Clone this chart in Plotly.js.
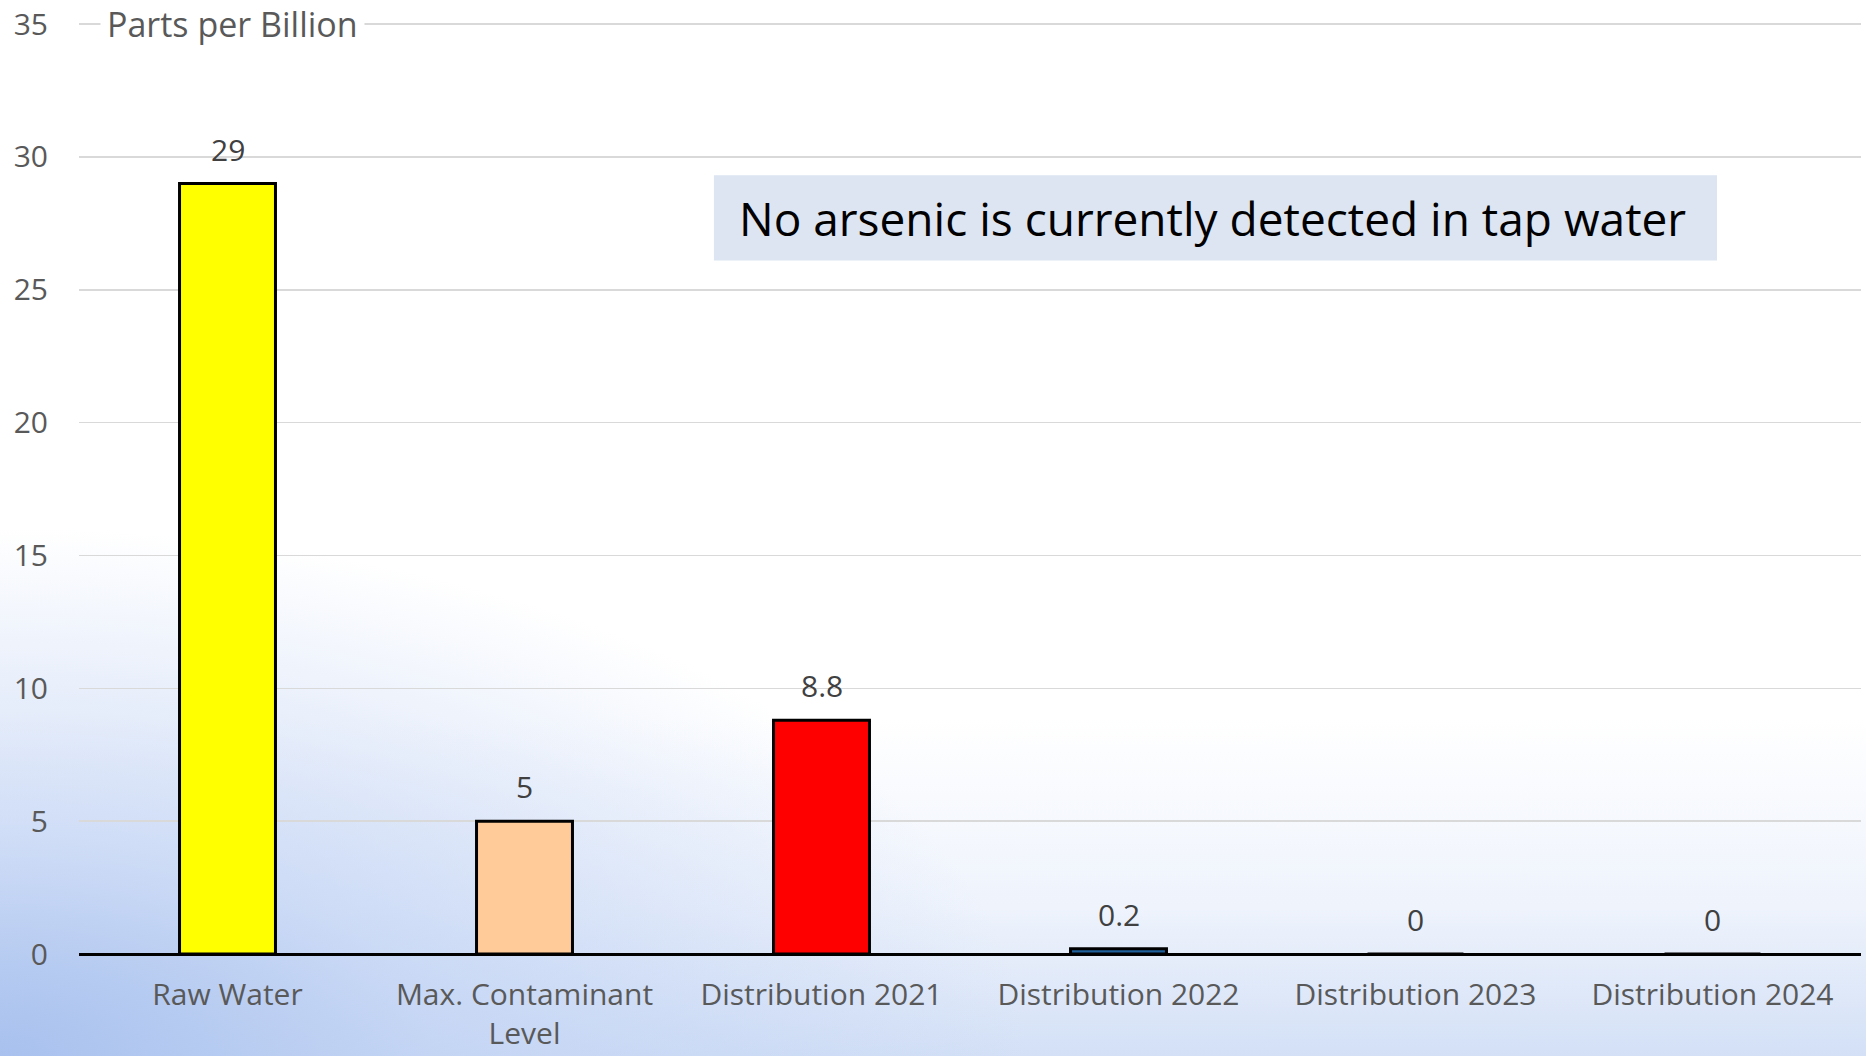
<!DOCTYPE html>
<html>
<head>
<meta charset="utf-8">
<script src="https://cdn.plot.ly/plotly-3.0.1.min.js"></script>
<style>
  html, body { margin: 0; padding: 0; }
  body {
    width: 1866px; height: 1056px; overflow: hidden;
    background:
      radial-gradient(ellipse 55% 50% at 0% 100%, rgba(168,193,238,1) 0%, rgba(188,207,243,0.65) 42%, rgba(255,255,255,0) 100%),
      linear-gradient(to bottom, #ffffff 0%, #ffffff 68%, #eef3fc 86%, #d3e0f6 100%);
  }
  #chart { width: 1866px; height: 1056px; }
</style>
</head>
<body>
<div id="chart"></div>
<script>
const categories = ["Raw Water", "Max. Contaminant<br>Level", "Distribution 2021", "Distribution 2022", "Distribution 2023", "Distribution 2024"];
const values = [29, 5, 8.8, 0.2, 0, 0];
const barColors = ["#ffff00", "#ffcc99", "#ff0000", "#1f5f9a", "#1f5f9a", "#1f5f9a"];
const valueLabels = ["29", "5", "8.8", "0.2", "0", "0"];
const yTicks = [0, 5, 10, 15, 20, 25, 30, 35];
const yAxisLabel = "Parts per Billion";
const noteText = "No arsenic is currently detected in tap water";

const FONT = "Open Sans, sans-serif";

const trace = {
  type: "bar",
  x: categories,
  y: values,
  marker: { color: barColors, line: { color: "#000000", width: 3 } },
  hoverinfo: "skip"
};

const labelAnnotations = categories.map((c, i) => ({
  x: c, y: values[i], xref: "x", yref: "y",
  text: valueLabels[i], showarrow: false,
  yanchor: "bottom", yshift: 12,
  font: { family: FONT, size: 30, color: "#404040" }
}));

const layout = {
  width: 1866, height: 1056,
  margin: { l: 79, r: 5, t: 22, b: 102 },
  paper_bgcolor: "rgba(0,0,0,0)",
  plot_bgcolor: "rgba(0,0,0,0)",
  showlegend: false,
  bargap: 0.677,
  font: { family: FONT, color: "#595959" },
  xaxis: {
    type: "category",
    showgrid: false, zeroline: false, showline: false,
    ticks: "", ticklabelstandoff: 20,
    tickfont: { family: FONT, size: 30, color: "#595959" },
    fixedrange: true
  },
  yaxis: {
    range: [0, 35.08],
    tickvals: yTicks,
    ticktext: yTicks.map(String),
    showgrid: true, gridcolor: "#d9d9d9", gridwidth: 1.5,
    zeroline: true, zerolinecolor: "#000000", zerolinewidth: 3,
    showline: false, ticks: "", ticklabelstandoff: 30,
    tickfont: { family: FONT, size: 30, color: "#595959" },
    fixedrange: true
  },
  shapes: [{
    type: "rect", xref: "paper", yref: "paper",
    x0: 0.3563, x1: 0.9192, y0: 0.7441, y1: 0.8355,
    fillcolor: "#dce5f1", line: { width: 0 }, layer: "below"
  }],
  annotations: labelAnnotations.concat([
    {
      xref: "paper", yref: "paper", x: 0.3692, y: 0.7898,
      xanchor: "left", yanchor: "middle", showarrow: false,
      text: noteText,
      font: { family: FONT, size: 46, color: "#000000" }
    },
    {
      xref: "paper", yref: "y", x: 0.012, y: 35,
      xanchor: "left", yanchor: "middle", showarrow: false,
      text: yAxisLabel, bgcolor: "#ffffff", borderpad: 6,
      font: { family: FONT, size: 34, color: "#595959" }
    }
  ])
};

Plotly.newPlot("chart", [trace], layout, { displayModeBar: false, staticPlot: true });
</script>
</body>
</html>
